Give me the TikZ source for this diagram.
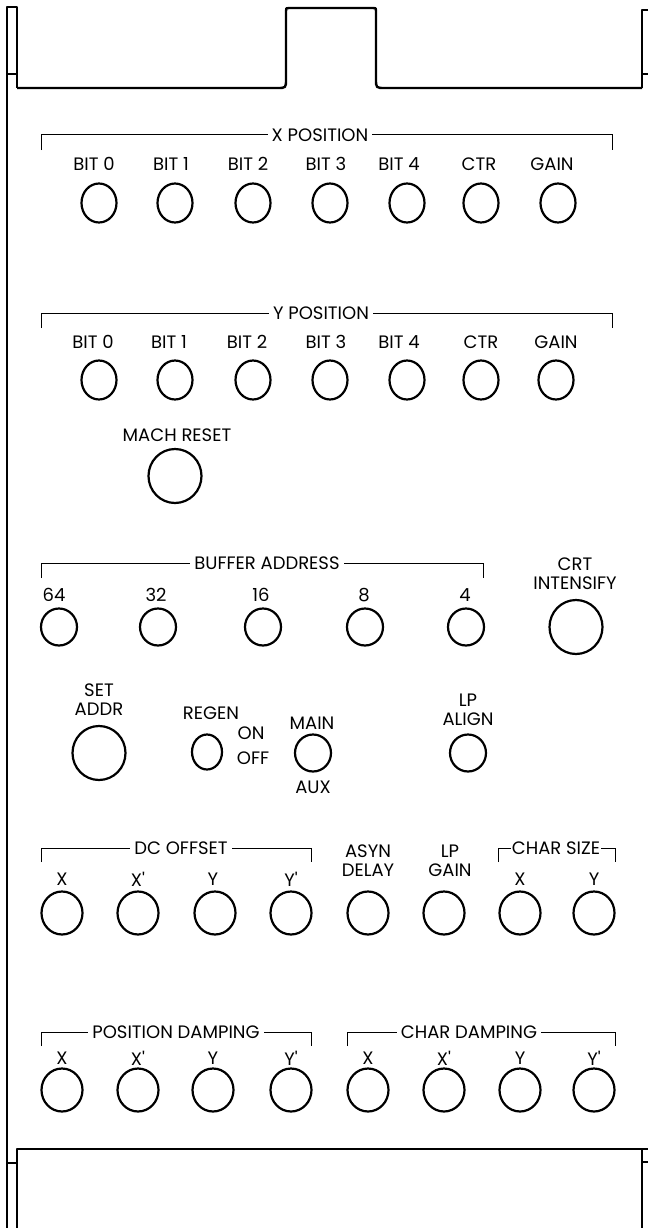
\documentclass[tikz,border=0pt]{standalone}
\usepackage{fontspec}
\setmainfont{Poppins}
\usetikzlibrary{shapes.geometric}
\tikzset{
  panel/.style={line width=2.4pt, line join=round},
  brk/.style={line width=1pt},
  lbl/.style={font=\fontsize{18}{19}\selectfont, inner sep=1pt, align=center},
  ttl/.style={lbl, fill=white, inner xsep=4pt},
  knob/.style={ellipse, draw, line width=2.2pt, inner sep=0pt, minimum width=35pt, minimum height=39pt},
  knobm/.style={knob, minimum width=36pt, minimum height=37pt},
  knobl/.style={knob, minimum width=53pt, minimum height=54pt},
  knobd/.style={knob, minimum width=41pt, minimum height=43pt},
}
\newcommand{\pr}{\textquotesingle}
\begin{document}
\begin{tikzpicture}[x=1pt, y=-1pt]
\useasboundingbox (0,0) rectangle (648,1228);
% frame
\draw[panel] (7,1228) -- (7,7) -- (17,7) -- (17,88);
\draw[panel] (7,74) -- (17,74);
\draw[panel] (17,88) -- (277,88) .. controls (286,88) .. (286,79) -- (286,11)
  .. controls (286,8) .. (289,8) -- (373,8) .. controls (376,8) .. (376,11)
  -- (376,79) .. controls (376,88) .. (385,88) -- (642,88);
\draw[panel] (648,10) -- (642,10) -- (642,88);
\draw[panel] (642,74) -- (648,74);
\draw[panel] (17,1228) -- (17,1149) -- (648,1149);
\draw[panel] (7,1163) -- (17,1163);
\draw[panel] (642,1228) -- (642,1149);
\draw[panel] (642,1162) -- (648,1162);

% X POSITION
\draw[brk] (41,150) -- (41,135) -- (612,135) -- (612,150);
\node[ttl] (xpos) at (320,135) {X POSITION};
\foreach \t/\lx/\cx [count=\i] in {BIT 0/94/99, BIT 1/171/175, BIT 2/248/253, BIT 3/326/330, BIT 4/399/407, CTR/479/481, GAIN/552/558}{
  \node[lbl] (xl\i) at (\lx,164) {\t};
  \node[knob] (xk\i) at (\cx,203) {};
}
% Y POSITION
\draw[brk] (41,328) -- (41,313) -- (612,313) -- (612,328);
\node[ttl] (ypos) at (321,313) {Y POSITION};
\foreach \t/\lx/\cx [count=\i] in {BIT 0/93/99, BIT 1/169/175, BIT 2/247/253, BIT 3/326/330, BIT 4/399/407, CTR/481/481, GAIN/556/556}{
  \node[lbl] (yl\i) at (\lx,342) {\t};
  \node[knob] (yk\i) at (\cx,380) {};
}
% MACH RESET
\node[lbl] (mrl) at (177,435) {MACH RESET};
\node[knobl] (mr) at (175,476) {};

% BUFFER ADDRESS
\draw[brk] (41,578) -- (41,563) -- (483,563) -- (483,578);
\node[ttl] (buf) at (267,563) {BUFFER ADDRESS};
\foreach \t/\lx/\cx [count=\i] in {64/54/59, 32/156/158, 16/261/263, 8/364/365, 4/465/466}{
  \node[lbl] (bl\i) at (\lx,595) {\t};
  \node[knobm] (bk\i) at (\cx,627) {};
}
\node[lbl] (crtl) at (575,574) {CRT\\INTENSIFY};
\node[knobl] (crt) at (576,627) {};

% SET ADDR, REGEN, MAIN, LP ALIGN
\node[lbl] (sal) at (99,700) {SET\\ADDR};
\node[knobl] (sa) at (99,753) {};
\node[lbl] (rgl) at (211,713) {REGEN};
\node[knob, minimum width=30pt, minimum height=35pt] (rg) at (207,752) {};
\node[lbl] (onl) at (251,733) {ON};
\node[lbl] (offl) at (253,758) {OFF};
\node[lbl] (mnl) at (312,723) {MAIN};
\node[knobm] (mn) at (313,753) {};
\node[lbl] (auxl) at (313,787) {AUX};
\node[lbl] (lpal) at (468,710) {LP\\ALIGN};
\node[knobm] (lpa) at (468,753) {};

% DC OFFSET row
\draw[brk] (41,862) -- (41,848) -- (311,848) -- (311,862);
\node[ttl] (dco) at (181,848) {DC OFFSET};
\draw[brk] (498,862) -- (498,848) -- (615,848) -- (615,862);
\node[ttl, inner xsep=1pt] (csz) at (556,848) {CHAR SIZE};
\node[lbl] (asl) at (368,861) {ASYN\\DELAY};
\node[lbl] (lpgl) at (450,861) {LP\\GAIN};
\foreach \t/\cx [count=\i] in {X/62, X\pr/138, Y/213, Y\pr/291}{
  \node[lbl] (dl\i) at (\cx,879) {\t};
}
\node[lbl] (csx) at (520,879) {X};
\node[lbl] (csy) at (594,879) {Y};
\foreach \cx [count=\i] in {62,138,215,291,368,444,520,594}{
  \node[knobd] (dk\i) at (\cx,913) {};
}

% DAMPING row
\draw[brk] (41,1046) -- (41,1032) -- (311,1032) -- (311,1046);
\node[ttl] (pdm) at (176,1032) {POSITION DAMPING};
\draw[brk] (347,1046) -- (347,1032) -- (615,1032) -- (615,1046);
\node[ttl] (cdm) at (469,1032) {CHAR DAMPING};
\foreach \t/\cx [count=\i] in {X/62, X\pr/138, Y/213, Y\pr/291, X/368, X\pr/444, Y/520, Y\pr/594}{
  \node[lbl] (ml\i) at (\cx,1058) {\t};
  \node[knobd] (mk\i) at (\cx,1090) {};
}
\end{tikzpicture}
\end{document}
